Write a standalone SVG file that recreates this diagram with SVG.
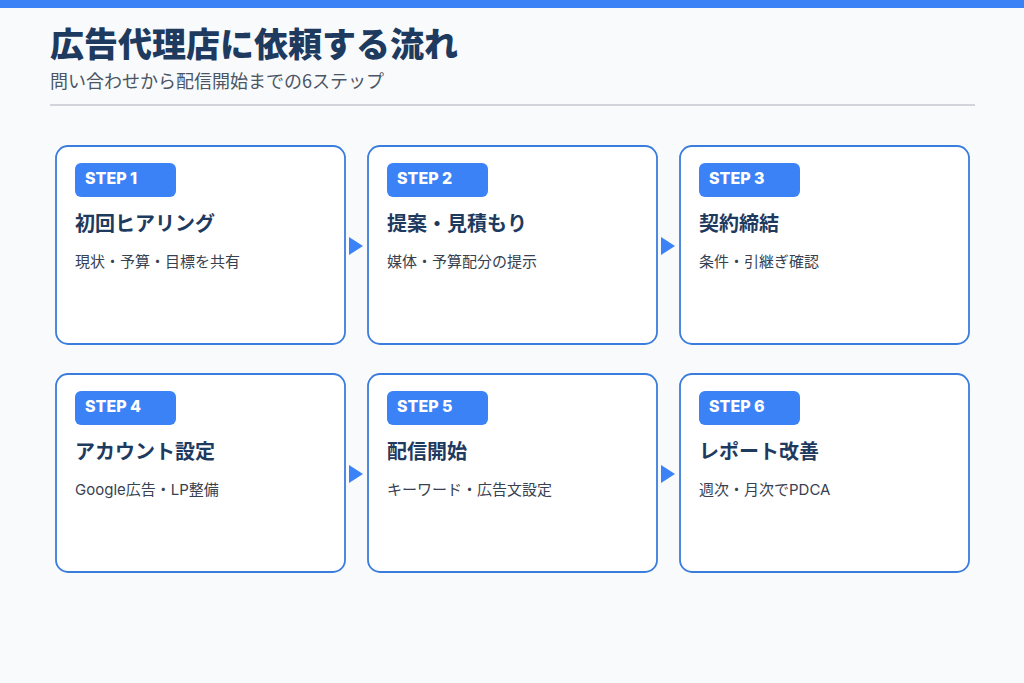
<svg xmlns="http://www.w3.org/2000/svg" width="1024" height="683" viewBox="0 0 1024 683">
<style>
.card{fill:#ffffff;stroke:#3b7ddd;stroke-width:1.8}
.badge{fill:#3b82f6}
.step{font-family:Inter,"Liberation Sans",sans-serif;font-weight:800;font-size:16px;fill:#ffffff}
.head{font-family:"Noto Sans CJK JP",sans-serif;font-weight:700;font-size:20px;fill:#1e3a5f}
.desc{font-family:Inter,"Noto Sans CJK JP",sans-serif;font-size:15px;fill:#374151}
.arrow{fill:#3b82f6}
</style>
<rect x="0" y="0" width="1024" height="683" fill="#f8fafc"/>
<rect x="0" y="0" width="1024" height="8" fill="#3b82f6"/>
<text x="50" y="57" font-family="'Noto Sans CJK JP',sans-serif" font-weight="900" font-size="34" fill="#1e3a5f">広告代理店に依頼する流れ</text>
<text x="50" y="88" font-family="'Noto Sans CJK JP',sans-serif" font-size="18" fill="#4b5563">問い合わせから配信開始までの6ステップ</text>
<line x1="50" y1="105" x2="975" y2="105" stroke="#d1d5db" stroke-width="2"/>

<g id="connectors">
<polygon class="arrow" points="349,237 349,255 363,246"/>
<polygon class="arrow" points="661,237 661,255 675,246"/>
<polygon class="arrow" points="349,465 349,483 363,474"/>
<polygon class="arrow" points="661,465 661,483 675,474"/>
</g>

<g id="step1">
<rect class="card" x="56" y="146" width="289" height="198" rx="12"/>
<rect class="badge" x="75" y="163" width="101" height="34" rx="6"/>
<text class="step" x="85" y="184">STEP 1</text>
<text class="head" x="75" y="231">初回ヒアリング</text>
<text class="desc" x="75" y="267">現状・予算・目標を共有</text>
</g>
<g id="step2">
<rect class="card" x="368" y="146" width="289" height="198" rx="12"/>
<rect class="badge" x="387" y="163" width="101" height="34" rx="6"/>
<text class="step" x="397" y="184">STEP 2</text>
<text class="head" x="387" y="231">提案・見積もり</text>
<text class="desc" x="387" y="267">媒体・予算配分の提示</text>
</g>
<g id="step3">
<rect class="card" x="680" y="146" width="289" height="198" rx="12"/>
<rect class="badge" x="699" y="163" width="101" height="34" rx="6"/>
<text class="step" x="709" y="184">STEP 3</text>
<text class="head" x="699" y="231">契約締結</text>
<text class="desc" x="699" y="267">条件・引継ぎ確認</text>
</g>
<g id="step4">
<rect class="card" x="56" y="374" width="289" height="198" rx="12"/>
<rect class="badge" x="75" y="391" width="101" height="34" rx="6"/>
<text class="step" x="85" y="412">STEP 4</text>
<text class="head" x="75" y="459">アカウント設定</text>
<text class="desc" x="75" y="495">Google広告・LP整備</text>
</g>
<g id="step5">
<rect class="card" x="368" y="374" width="289" height="198" rx="12"/>
<rect class="badge" x="387" y="391" width="101" height="34" rx="6"/>
<text class="step" x="397" y="412">STEP 5</text>
<text class="head" x="387" y="459">配信開始</text>
<text class="desc" x="387" y="495">キーワード・広告文設定</text>
</g>
<g id="step6">
<rect class="card" x="680" y="374" width="289" height="198" rx="12"/>
<rect class="badge" x="699" y="391" width="101" height="34" rx="6"/>
<text class="step" x="709" y="412">STEP 6</text>
<text class="head" x="699" y="459">レポート改善</text>
<text class="desc" x="699" y="495">週次・月次でPDCA</text>
</g>
</svg>
